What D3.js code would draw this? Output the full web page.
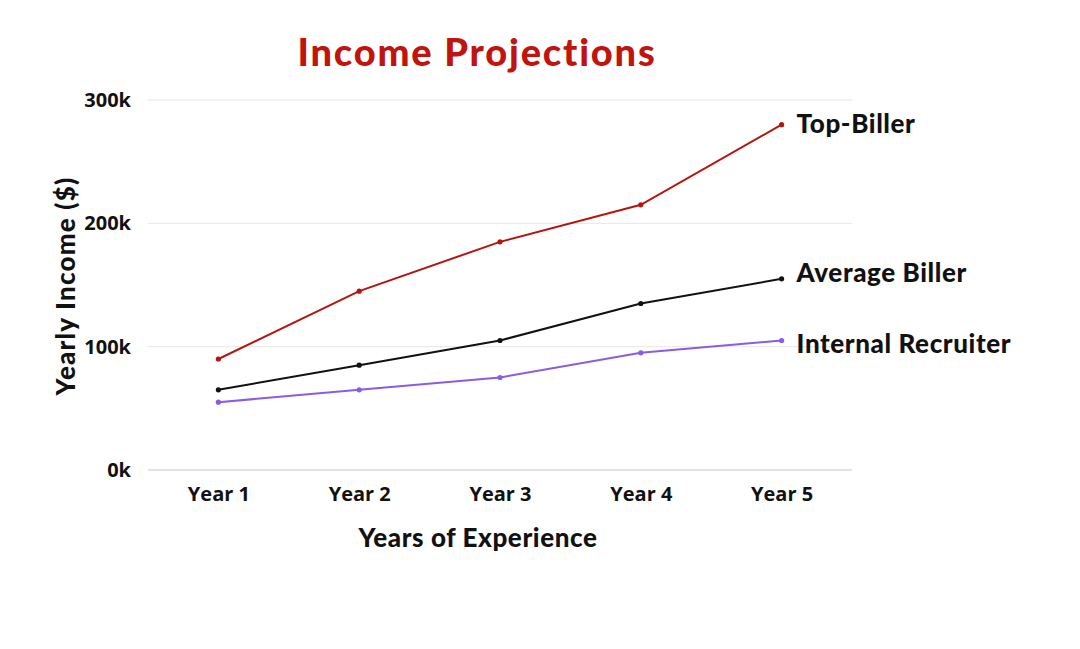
<!DOCTYPE html>
<html>
<head>
<meta charset="utf-8">
<script src="https://cdn.jsdelivr.net/npm/d3@7"></script>
<style>
  html, body { margin: 0; padding: 0; background: #fff; }
  svg { display: block; }
</style>
</head>
<body>
<svg id="chart" width="1080" height="649"></svg>
<script>
const categories = ["Year 1", "Year 2", "Year 3", "Year 4", "Year 5"];
const seriesNames = ["Top-Biller", "Average Biller", "Internal Recruiter"];
const topBiller = [90000, 145000, 185000, 215000, 280000];
const averageBiller = [65000, 85000, 105000, 135000, 155000];
const internalRecruiter = [55000, 65000, 75000, 95000, 105000];
const yTicks = [0, 100000, 200000, 300000];
const colors = ["#b3160f", "#111111", "#8a5ce6"];
const labelShift = [-1, -6, 3];

const series = [
  { name: seriesNames[0], values: topBiller, color: colors[0], shift: labelShift[0] },
  { name: seriesNames[1], values: averageBiller, color: colors[1], shift: labelShift[1] },
  { name: seriesNames[2], values: internalRecruiter, color: colors[2], shift: labelShift[2] }
];

const svg = d3.select("#chart");
const margin = { left: 148, right: 228, top: 100, bottom: 179 };
const W = 1080, H = 649;
const x = d3.scalePoint().domain(categories).range([margin.left, W - margin.right]).padding(0.5);
const y = d3.scaleLinear().domain([0, 300000]).range([H - margin.bottom, margin.top]);

const headFont = "Lato, sans-serif";
const tickFont = "'Open Sans', sans-serif";

// gridlines
svg.append("g").selectAll("line").data(yTicks).join("line")
  .attr("x1", margin.left).attr("x2", W - margin.right)
  .attr("y1", d => y(d)).attr("y2", d => y(d))
  .attr("stroke", d => d === 0 ? "#c8c8c8" : "#e6e6e6")
  .attr("stroke-width", 1);

// y axis labels
const yAxis = d3.axisLeft(y).tickValues(yTicks).tickSize(0).tickPadding(0)
  .tickFormat(d => (d / 1000) + "k");
const gy = svg.append("g").attr("transform", `translate(${margin.left - 17},0)`).call(yAxis)
  .attr("font-family", tickFont);
gy.select(".domain").remove();
gy.selectAll("text").style("font-family", tickFont).style("font-weight", 700)
  .style("font-size", "20px").attr("fill", "#111");

// x axis labels
const xAxis = d3.axisBottom(x).tickSize(0).tickPadding(0);
const gx = svg.append("g").attr("transform", `translate(0,${H - margin.bottom + 17})`).call(xAxis)
  .attr("font-family", tickFont);
gx.select(".domain").remove();
gx.selectAll("text").style("font-family", tickFont).style("font-weight", 700)
  .style("font-size", "20px").attr("fill", "#111");

// lines
const line = d3.line().x((d, i) => x(categories[i])).y(d => y(d));
series.forEach(s => {
  svg.append("path").datum(s.values).attr("d", line)
    .attr("fill", "none").attr("stroke", s.color).attr("stroke-width", 2);
  svg.append("g").selectAll("circle").data(s.values).join("circle")
    .attr("cx", (d, i) => x(categories[i])).attr("cy", d => y(d)).attr("r", 2.6)
    .attr("fill", s.color);
  svg.append("text")
    .attr("x", x(categories[categories.length - 1]) + 15)
    .attr("y", y(s.values[s.values.length - 1]) + s.shift)
    .attr("dy", "0.35em")
    .style("font-family", headFont).style("font-weight", 900)
    .style("font-size", "26px").style("letter-spacing", "0.6px").attr("fill", "#111")
    .text(s.name);
});

// title
svg.append("text").attr("x", 477).attr("y", 66).attr("text-anchor", "middle")
  .style("font-family", headFont).style("font-weight", 900)
  .style("font-size", "38px").style("letter-spacing", "1.8px").attr("fill", "#c0140e")
  .text("Income Projections");

// x axis title
svg.append("text").attr("x", 478).attr("y", 547).attr("text-anchor", "middle")
  .style("font-family", headFont).style("font-weight", 900)
  .style("font-size", "26px").style("letter-spacing", "0.6px").attr("fill", "#111")
  .text("Years of Experience");

// y axis title
svg.append("text").attr("transform", "translate(75,286) rotate(-90)")
  .attr("text-anchor", "middle")
  .style("font-family", headFont).style("font-weight", 900)
  .style("font-size", "26px").style("letter-spacing", "1.2px").attr("fill", "#111")
  .text("Yearly Income ($)");
</script>
</body>
</html>
